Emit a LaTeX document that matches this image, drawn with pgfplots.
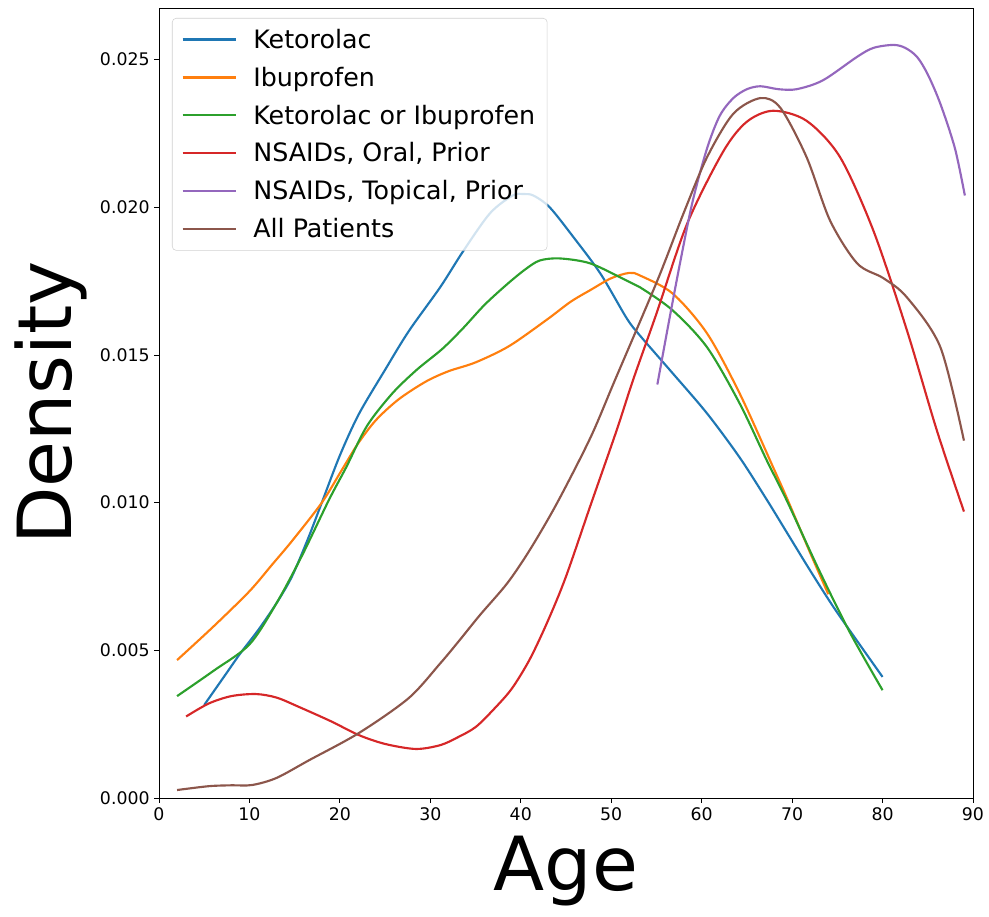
\documentclass[border=0pt]{standalone}
\usepackage{pgfplots}
\pgfplotsset{compat=1.18}
\usepackage{fontspec}
\setmainfont{DejaVu Sans}
\definecolor{tabblue}{RGB}{31,119,180}
\definecolor{taborange}{RGB}{255,127,14}
\definecolor{tabgreen}{RGB}{44,160,44}
\definecolor{tabred}{RGB}{214,39,40}
\definecolor{tabpurple}{RGB}{148,103,189}
\definecolor{tabbrown}{RGB}{140,86,75}
\begin{document}
\begin{tikzpicture}
\begin{axis}[
    scale only axis,
    width=610.5pt,
    height=592.5pt,
    xmin=0, xmax=90,
    ymin=0, ymax=0.02675,
    xtick={0,10,...,90},
    ytick={0,0.005,0.010,0.015,0.020,0.025},
    scaled y ticks=false,
    yticklabel style={/pgf/number format/.cd,fixed,fixed zerofill,precision=3},
    /pgf/number format/assume math mode=true,
    tick label style={font=\fontsize{13}{15}\selectfont},
    tick align=outside,
    major tick length=3.5pt,
    tick style={black, line width=0.6pt},
    axis line style={line width=0.6pt},
    xtick pos=bottom, ytick pos=left,
    xlabel={Age}, ylabel={Density},
    label style={font=\fontsize{56}{60}\selectfont},
    xlabel style={yshift=-5pt},
    ylabel style={yshift=3pt},
    every axis plot/.append style={line width=1.6pt, smooth, no marks},
    legend cell align=left,
    legend image code/.code={\draw[#1] (0pt,0pt) -- (40pt,0pt); \path[draw=none] (0pt,0pt) -- (51pt,0pt);},
    legend style={at={(rel axis cs:0,1)}, anchor=north west,
        xshift=9.75pt, yshift=-7.5pt,
        fill=white, fill opacity=0.8, text opacity=1, draw opacity=1,
        draw=black!18, rounded corners=3pt,
        font=\fontsize{19}{22}\selectfont,
        row sep=8.5pt, inner xsep=7pt, inner ysep=6pt},
]
\addplot[tabblue] coordinates {
(5,0.00315) (7.4,0.0042) (9,0.0049) (11,0.0057) (13,0.0066) (14.7,0.0075) (16.5,0.0088) (18,0.0100) (20,0.0116) (22.1,0.0130) (25,0.0145) (27.6,0.0158) (31.1,0.0173) (33.6,0.0185) (36.6,0.0198) (39.1,0.0204) (40.3,0.02045) (41.4,0.0204) (43.2,0.0200) (45.8,0.0190) (48.8,0.01776) (51.7,0.01625) (53.2,0.01565) (56.8,0.01438) (60.6,0.01302) (64.2,0.01153) (67.2,0.0101) (69.4,0.0090) (72,0.0077) (74.5,0.0065) (77,0.0054) (80,0.0041)
};
\addlegendentry{Ketorolac}
\addplot[taborange] coordinates {
(2,0.00467) (6,0.0058) (10,0.0070) (12.5,0.0079) (14.7,0.0087) (18,0.0100) (20.2,0.0111) (22,0.0120) (24,0.0128) (26.5,0.0135) (29.5,0.0141) (32,0.01445) (35,0.01475) (38.7,0.0153) (42.9,0.0162) (45.5,0.0168) (47.7,0.0172) (50,0.0176) (52,0.01778) (53.2,0.01769) (56.8,0.01708) (60.6,0.01573) (64.2,0.0137) (67.9,0.0112) (69.5,0.0101) (72,0.0083) (74,0.0069)
};
\addlegendentry{Ibuprofen}
\addplot[tabgreen] coordinates {
(2,0.00345) (6,0.0043) (10,0.0052) (13,0.0066) (15.8,0.0082) (18.8,0.0101) (20.7,0.0112) (23,0.0126) (25.8,0.0137) (28.5,0.0145) (31.3,0.0152) (33.6,0.0159) (36,0.0167) (38.5,0.0174) (40.5,0.0179) (42.1,0.0182) (44.3,0.01827) (47.7,0.0181) (51.7,0.01752) (53.2,0.01729) (56.8,0.01651) (60.6,0.01526) (64.2,0.01336) (67.2,0.01143) (69.4,0.01008) (73,0.0077) (76.4,0.0056) (80,0.00365)
};
\addlegendentry{Ketorolac or Ibuprofen}
\addplot[tabred] coordinates {
(3,0.00276) (5.5,0.0032) (8,0.00345) (10.7,0.00352) (13,0.0034) (15.5,0.00308) (19,0.0026) (22.1,0.00213) (25,0.00183) (28.4,0.00166) (31.1,0.00179) (33,0.00205) (35,0.0024) (37,0.0030) (39,0.0037) (41,0.0047) (43,0.0060) (45,0.0075) (47.7,0.0099) (50.6,0.01245) (52.4,0.01414) (55,0.0164) (58.4,0.01945) (62.4,0.0219) (65,0.0229) (67.9,0.02327) (71.6,0.02293) (75.3,0.0217) (79,0.0192) (82.7,0.01583) (86,0.01245) (89,0.0097)
};
\addlegendentry{NSAIDs, Oral, Prior}
\addplot[tabpurple] coordinates {
(55.1,0.0140) (56.3,0.0160) (57.6,0.0181) (59,0.0202) (60.6,0.0220) (62,0.0231) (63.5,0.0237) (65,0.0240) (66.5,0.0241) (68.5,0.0240) (70.5,0.0240) (73.4,0.0243) (77.2,0.0251) (79,0.0254) (81.2,0.0255) (82.5,0.0254) (83.8,0.0251) (85,0.0245) (86.4,0.0235) (88,0.0220) (89.1,0.0204)
};
\addlegendentry{NSAIDs, Topical, Prior}
\addplot[tabbrown] coordinates {
(2,0.00027) (5.5,0.0004) (8,0.00043) (10.3,0.00044) (13,0.00068) (16.6,0.00128) (22.1,0.0022) (27.6,0.00338) (31.1,0.00456) (33.2,0.00533) (35.5,0.0062) (38.5,0.00727) (41,0.0084) (44,0.00998) (47.7,0.0122) (50.4,0.01414) (55.1,0.01752) (58,0.0198) (60.6,0.0217) (63.5,0.02317) (66.5,0.0237) (68.7,0.02337) (71.6,0.0217) (74.2,0.01955) (77.2,0.0181) (80.1,0.0176) (82.7,0.01695) (86.4,0.01526) (89,0.0121)
};
\addlegendentry{All Patients}
\end{axis}
\pgfresetboundingbox
\path ([shift={(-119.25pt,-89.25pt)}]current axis.south west) rectangle ([shift={(12pt,6pt)}]current axis.north east);
\end{tikzpicture}
\end{document}
